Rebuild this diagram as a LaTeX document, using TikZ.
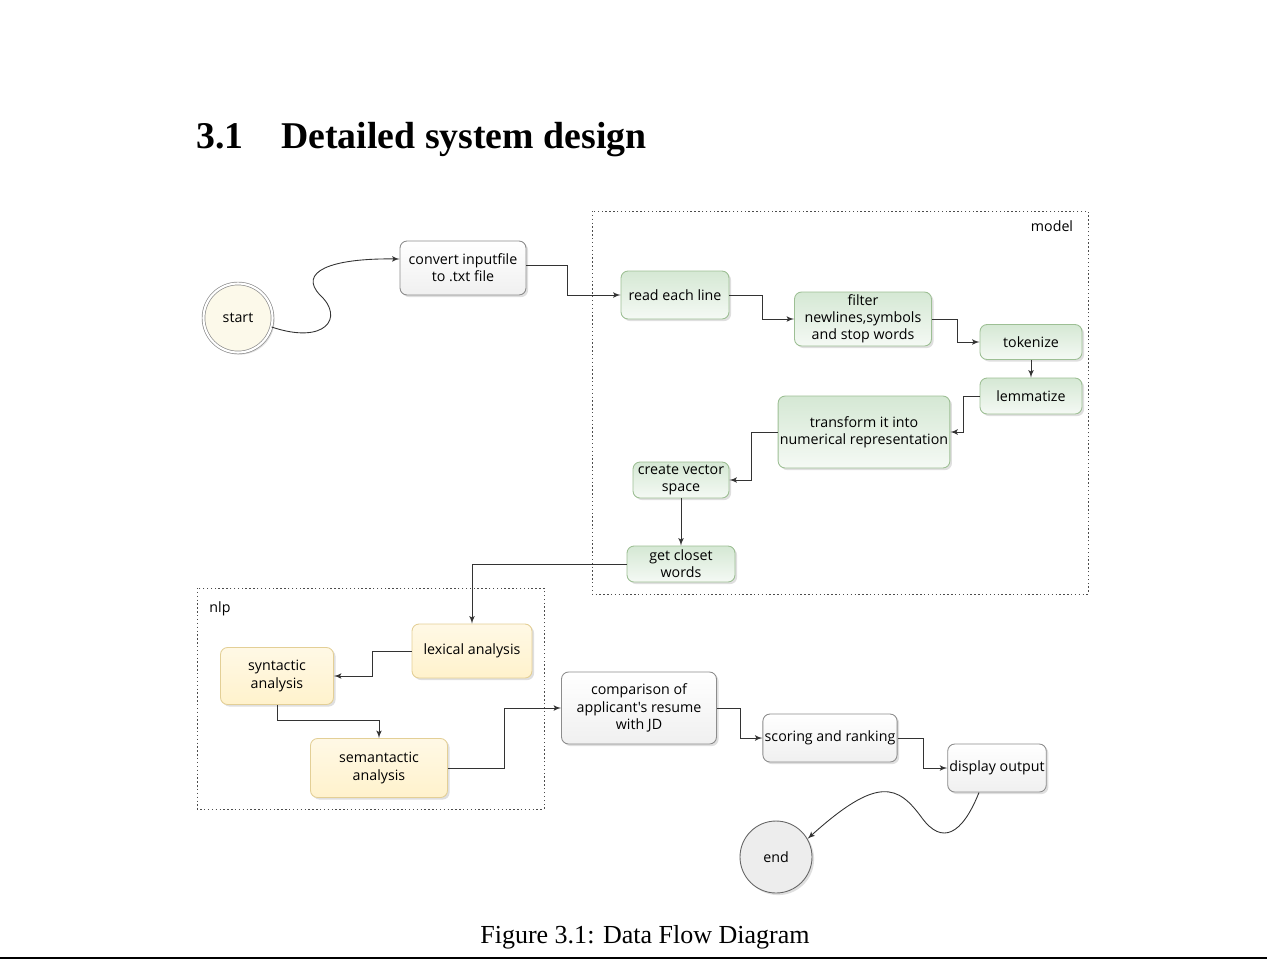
\documentclass[tikz,border=0pt]{standalone}
\usepackage{fontspec}
\setmainfont{Liberation Serif}
\newfontfamily\flowfont{Open Sans}
\usetikzlibrary{arrows,shadows}

\definecolor{linegray}{HTML}{333333}
\definecolor{boxgray}{HTML}{8C8C8C}
\definecolor{greenfill}{HTML}{D5E8D4}
\definecolor{greenline}{HTML}{9DBF94}
\definecolor{yellowfill}{HTML}{FFF2CC}
\definecolor{yellowline}{HTML}{E3CF96}
\definecolor{creamfill}{HTML}{FCF9EA}

\tikzstyle{line} = [draw=linegray, line width=0.5pt, -latex']
\tikzstyle{block} = [rectangle, rounded corners=4pt, align=center, inner sep=1pt,
  font=\flowfont\fontsize{8.1}{9.8}\selectfont, line width=0.5pt,
  drop shadow={opacity=0.25, shadow xshift=1.2pt, shadow yshift=-1.2pt}]
\tikzstyle{plain} = [block, draw=boxgray, top color=white, bottom color=black!6]
\tikzstyle{model} = [block, draw=greenline, top color=greenfill, bottom color=greenfill!25]
\tikzstyle{nlp} = [block, draw=yellowline, top color=yellowfill!50, bottom color=yellowfill]
\tikzstyle{group} = [draw=black!70, line width=0.5pt, dash pattern=on 0.8pt off 1.4pt]

\begin{document}
\begin{tikzpicture}[x=0.02cm,y=-0.02cm]
		\useasboundingbox (0,0) rectangle (1267,961);
		
		%heading
		\node[anchor=base west, inner sep=0, font=\bfseries\fontsize{21.5}{25}\selectfont](secnum) at (196,148) {3.1};
		\node[anchor=base west, inner sep=0, font=\bfseries\fontsize{21.5}{25}\selectfont](sectitle) at (281,148) {Detailed system design};
		
		%groups
		\draw[group] (592,211) rectangle (1088,594);
		\draw[group] (197,588) rectangle (544,809);
		\node[font=\flowfont\fontsize{8.1}{9}\selectfont](modellabel) at (1052,226) {model};
		\node[font=\flowfont\fontsize{8.1}{9}\selectfont](nlplabel) at (220,609) {nlp};
		
		%start and end
		\node[circle, draw=boxgray, double=white, double distance=1.2pt, fill=creamfill, minimum size=1.38cm,
		  font=\flowfont\fontsize{8.1}{9}\selectfont, drop shadow={opacity=0.25, shadow xshift=1.2pt, shadow yshift=-1.2pt}](start) at (238,318) {start};
		\node[circle, draw=black!60, fill=black!7, line width=0.5pt, minimum size=1.44cm,
		  font=\flowfont\fontsize{8.1}{9}\selectfont, drop shadow={opacity=0.25, shadow xshift=1.2pt, shadow yshift=-1.2pt}](end) at (776,857) {end};
		
		%blocks
		\node[plain, minimum width=2.52cm, minimum height=1.08cm](convert) at (463,268) {convert inputfile\\to .txt file};
		\node[model, minimum width=2.16cm, minimum height=0.96cm](readline) at (675,295) {read each line};
		\node[model, minimum width=2.74cm, minimum height=1.08cm](filter) at (863,319) {filter\\newlines,symbols\\and stop words};
		\node[model, minimum width=2.04cm, minimum height=0.70cm](tokenize) at (1031,342) {tokenize};
		\node[model, minimum width=2.04cm, minimum height=0.72cm](lemmatize) at (1031,396) {lemmatize};
		\node[model, minimum width=3.40cm, minimum height=1.44cm](transform) at (864,432) {transform it into\\numerical representation};
		\node[model, minimum width=1.92cm, minimum height=0.72cm](vectorspace) at (681,480) {create vector\\space};
		\node[model, minimum width=2.16cm, minimum height=0.72cm](closest) at (681,564) {get closet\\words};
		\node[nlp, minimum width=2.40cm, minimum height=1.08cm](lexical) at (472,651) {lexical analysis};
		\node[nlp, minimum width=2.26cm, minimum height=1.14cm](syntactic) at (277,676) {syntactic\\analysis};
		\node[nlp, minimum width=2.74cm, minimum height=1.18cm](semantic) at (379,768) {semantactic\\analysis};
		\node[plain, minimum width=3.10cm, minimum height=1.44cm](compare) at (639,708) {comparison of\\applicant's resume\\with JD};
		\node[plain, minimum width=2.62cm, minimum height=0.96cm](scoring) at (830,738) {scoring and ranking};
		\node[plain, minimum width=1.92cm, minimum height=0.96cm](display) at (997,768) {display output};
		
		%arrows
		\draw[line] (start.-15) .. controls (325,345) and (345,318) .. (320,295) .. controls (298,272) and (330,258) .. ([yshift=0.18cm]convert.west);
		\draw[line] ([yshift=0.06cm]convert.east) -- ++(41,0) |- (readline.west);
		\draw[line] (readline.east) -- ++(33,0) |- (filter.west);
		\draw[line] (filter.east) -- ++(25,0) |- (tokenize.west);
		\draw[line] (tokenize.south) -- (lemmatize.north);
		\draw[line] (lemmatize.west) -- ++(-16,0) |- (transform.east);
		\draw[line] (transform.west) -- ++(-26,0) |- (vectorspace.east);
		\draw[line] (vectorspace.south) -- (closest.north);
		\draw[line] (closest.west) -| (lexical.north);
		\draw[line] (lexical.west) -- ++(-39,0) |- (syntactic.east);
		\draw[line] (syntactic.south) -- ++(0,15) -| (semantic.north);
		\draw[line] (semantic.east) -- ++(57,0) |- (compare.west);
		\draw[line] (compare.east) -- ++(24,0) |- (scoring.west);
		\draw[line] (scoring.east) -- ++(26,0) |- (display.west);
		\draw[line] ([xshift=-0.36cm]display.south) .. controls (962,835) and (942,845) .. (922,818) .. controls (898,785) and (878,775) .. (end.30);
		
		%caption
		\node[anchor=base, inner sep=0, font=\fontsize{14.8}{18}\selectfont](caption) at (645,943) {Figure 3.1: Data Flow Diagram};
		\draw[line width=1.1pt] (0,958) -- (1267,958);
\end{tikzpicture}
\end{document}
